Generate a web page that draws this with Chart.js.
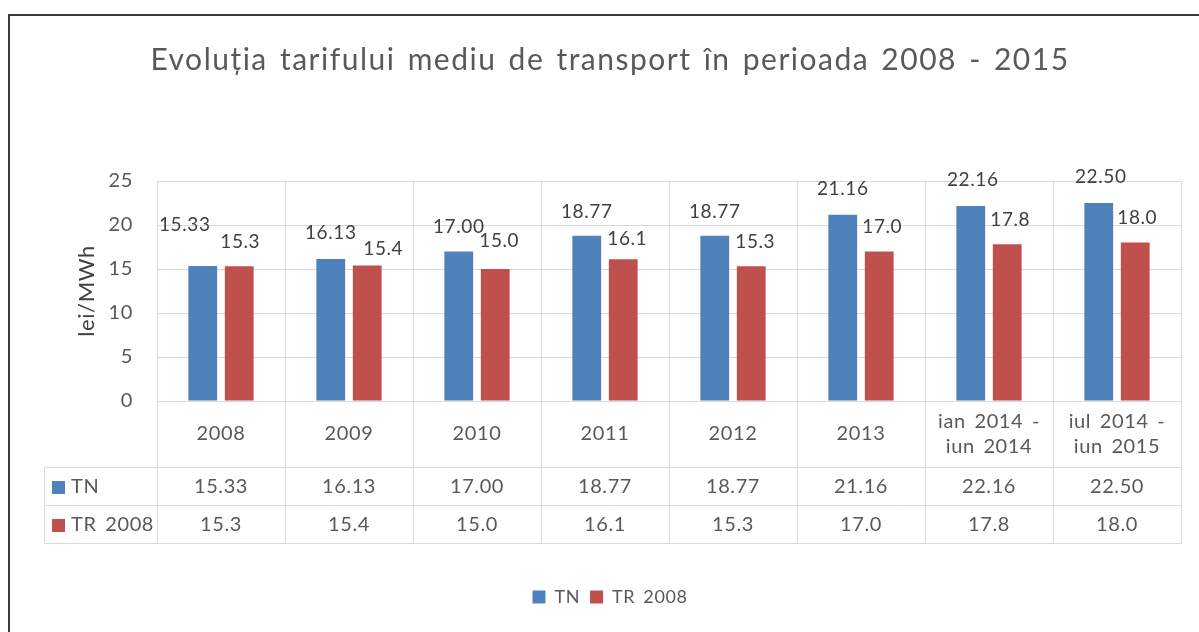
<!DOCTYPE html>
<html>
<head>
<meta charset="utf-8">
<script src="https://cdn.jsdelivr.net/npm/chart.js@4.4.1/dist/chart.umd.min.js"></script>
<style>
  html, body { margin: 0; padding: 0; background: #fff; }
  #wrap { width: 1199px; height: 632px; position: relative; }
</style>
</head>
<body>
<div id="wrap"><canvas id="c" width="1199" height="632"></canvas></div>
<script>
// ---- data ----
const categories = ['2008', '2009', '2010', '2011', '2012', '2013', ['ian 2014 -', 'iun 2014'], ['iul 2014 -', 'iun 2015']];
const seriesNames = ['TN', 'TR 2008'];
const tnValues = [15.33, 16.13, 17.00, 18.77, 18.77, 21.16, 22.16, 22.50];
const trValues = [15.3, 15.4, 15.0, 16.1, 15.3, 17.0, 17.8, 18.0];
const tnDecimals = 2;
const trDecimals = 1;
const yTicks = [0, 5, 10, 15, 20, 25];

const titleText = 'Evoluția tarifului mediu de transport în perioada 2008 - 2015';
const yTitle = 'lei/MWh';

// ---- style ----
const FONT = 'Lato, "Open Sans", sans-serif';
const colors = ['#4f81bd', '#c0504d'];
const textColor = '#595959';
// value-label nudges (px) relative to the bar top centre, as placed in the original
const labelNudge = [
  { dx: [-18, 0, 0, 0, 0, 0, 2, 2], dy: [-41, -26, -25, -24, -24, -26, -26, -26] },
  { dx: [1, 16, 4, 4, 4, 3, 3, 2], dy: [-24, -17, -28, -20, -24, -25, -24, -25] }
];

function setSpacing(ctx) {
  ctx.letterSpacing = '0.6px';
  ctx.wordSpacing = '3px';
}

const extras = {
  id: 'extras',
  beforeUpdate(chart) { setSpacing(chart.ctx); },
  afterLayout(chart) {
    const tb = chart.titleBlock;
    if (tb && !tb._spaced) {
      const orig = tb.draw.bind(tb);
      tb.draw = function (...args) {
        const c = chart.ctx;
        const prevL = c.letterSpacing;
        c.letterSpacing = '1.5px';
        orig(...args);
        c.letterSpacing = prevL;
      };
      tb._spaced = true;
    }
  },
  beforeDraw(chart) {
    const ctx = chart.ctx;
    setSpacing(ctx);
    ctx.save();
    ctx.fillStyle = '#fff';
    ctx.fillRect(0, 0, chart.width, chart.height);
    ctx.strokeStyle = '#3a3a3a';
    ctx.lineWidth = 2;
    ctx.beginPath();
    ctx.moveTo(9, chart.height + 5);
    ctx.lineTo(9, 15);
    ctx.lineTo(chart.width + 5, 15);
    ctx.stroke();
    ctx.restore();
  },
  afterDatasetsDraw(chart) {
    const ctx = chart.ctx;
    ctx.save();
    ctx.font = '19px ' + FONT;
    ctx.fillStyle = '#404040';
    ctx.textAlign = 'center';
    ctx.textBaseline = 'middle';
    chart.data.datasets.forEach((ds, di) => {
      const meta = chart.getDatasetMeta(di);
      const dec = di === 0 ? tnDecimals : trDecimals;
      const nd = labelNudge[di];
      meta.data.forEach((bar, i) => {
        ctx.fillText(ds.data[i].toFixed(dec), bar.x + nd.dx[i], bar.y + nd.dy[i]);
      });
    });
    ctx.restore();
  },
  afterDraw(chart) {
    const ctx = chart.ctx;
    const xs = chart.scales.x;
    const area = chart.chartArea;
    const n = categories.length;
    const step = (area.right - area.left) / n;
    const rowCat = area.bottom + 66;
    const row1 = rowCat + 38;
    const row2 = row1 + 38;
    const tableLeft = 44;
    ctx.save();
    ctx.strokeStyle = '#d9d9d9';
    ctx.lineWidth = 1;
    ctx.beginPath();
    [rowCat, row1, row2].forEach(y => {
      ctx.moveTo(tableLeft, y + 0.5);
      ctx.lineTo(area.right + 0.5, y + 0.5);
    });
    for (let i = 0; i <= n; i++) {
      const x = Math.round(area.left + i * step) + 0.5;
      ctx.moveTo(x, area.bottom);
      ctx.lineTo(x, row2 + 0.5);
    }
    ctx.moveTo(tableLeft + 0.5, rowCat);
    ctx.lineTo(tableLeft + 0.5, row2 + 0.5);
    ctx.stroke();

    ctx.font = '20px ' + FONT;
    ctx.fillStyle = textColor;
    ctx.textAlign = 'center';
    ctx.textBaseline = 'middle';
    categories.forEach((c, i) => {
      const cx = xs.getPixelForValue(i);
      const mid = (area.bottom + rowCat) / 2;
      if (Array.isArray(c)) {
        ctx.fillText(c[0], cx, mid - 12);
        ctx.fillText(c[1], cx, mid + 13);
      } else {
        ctx.fillText(c, cx, mid);
      }
      ctx.fillText(tnValues[i].toFixed(tnDecimals), cx, (rowCat + row1) / 2 + 1);
      ctx.fillText(trValues[i].toFixed(trDecimals), cx, (row1 + row2) / 2 + 1);
    });
    ctx.textAlign = 'left';
    [[rowCat, row1], [row1, row2]].forEach((r, k) => {
      const cy = (r[0] + r[1]) / 2 + 1;
      ctx.fillStyle = colors[k];
      ctx.fillRect(52, cy - 6, 13, 13);
      ctx.fillStyle = textColor;
      ctx.fillText(seriesNames[k], 71, cy);
    });
    ctx.restore();
  }
};

new Chart(document.getElementById('c'), {
  type: 'bar',
  data: {
    labels: categories,
    datasets: [
      { label: seriesNames[0], data: tnValues, backgroundColor: colors[0], borderWidth: 0,
        categoryPercentage: 0.57, barPercentage: 0.79 },
      { label: seriesNames[1], data: trValues, backgroundColor: colors[1], borderWidth: 0,
        categoryPercentage: 0.57, barPercentage: 0.79 }
    ]
  },
  options: {
    responsive: false,
    animation: false,
    devicePixelRatio: 1,
    layout: { padding: { left: 39, right: 18, top: 0, bottom: 16 } },
    plugins: {
      title: {
        display: true,
        text: titleText,
        color: textColor,
        font: { family: FONT, size: 30, weight: 'normal' },
        padding: { top: 42, bottom: 103 }
      },
      legend: {
        display: true,
        position: 'bottom',
        labels: {
          color: textColor,
          font: { family: FONT, size: 18 },
          boxWidth: 13,
          boxHeight: 13,
          padding: 10
        }
      },
      tooltip: { enabled: false }
    },
    scales: {
      x: {
        ticks: { display: false },
        grid: { color: '#d9d9d9', drawTicks: false, offset: true },
        border: { color: '#d9d9d9' },
        afterFit(s) { s.height = 177; }
      },
      y: {
        min: 0, max: 25,
        afterBuildTicks(s) { s.ticks = yTicks.map(v => ({ value: v })); },
        ticks: { color: textColor, font: { family: FONT, size: 20 }, padding: 24 },
        grid: { color: '#d9d9d9', drawTicks: false },
        border: { color: '#d9d9d9' },
        title: {
          display: true, text: yTitle, color: '#404040',
          font: { family: FONT, size: 22 },
          padding: { top: 35, bottom: 0 }
        },
        afterFit(s) { s.width = 118; }
      }
    }
  },
  plugins: [extras]
});
</script>
</body>
</html>
